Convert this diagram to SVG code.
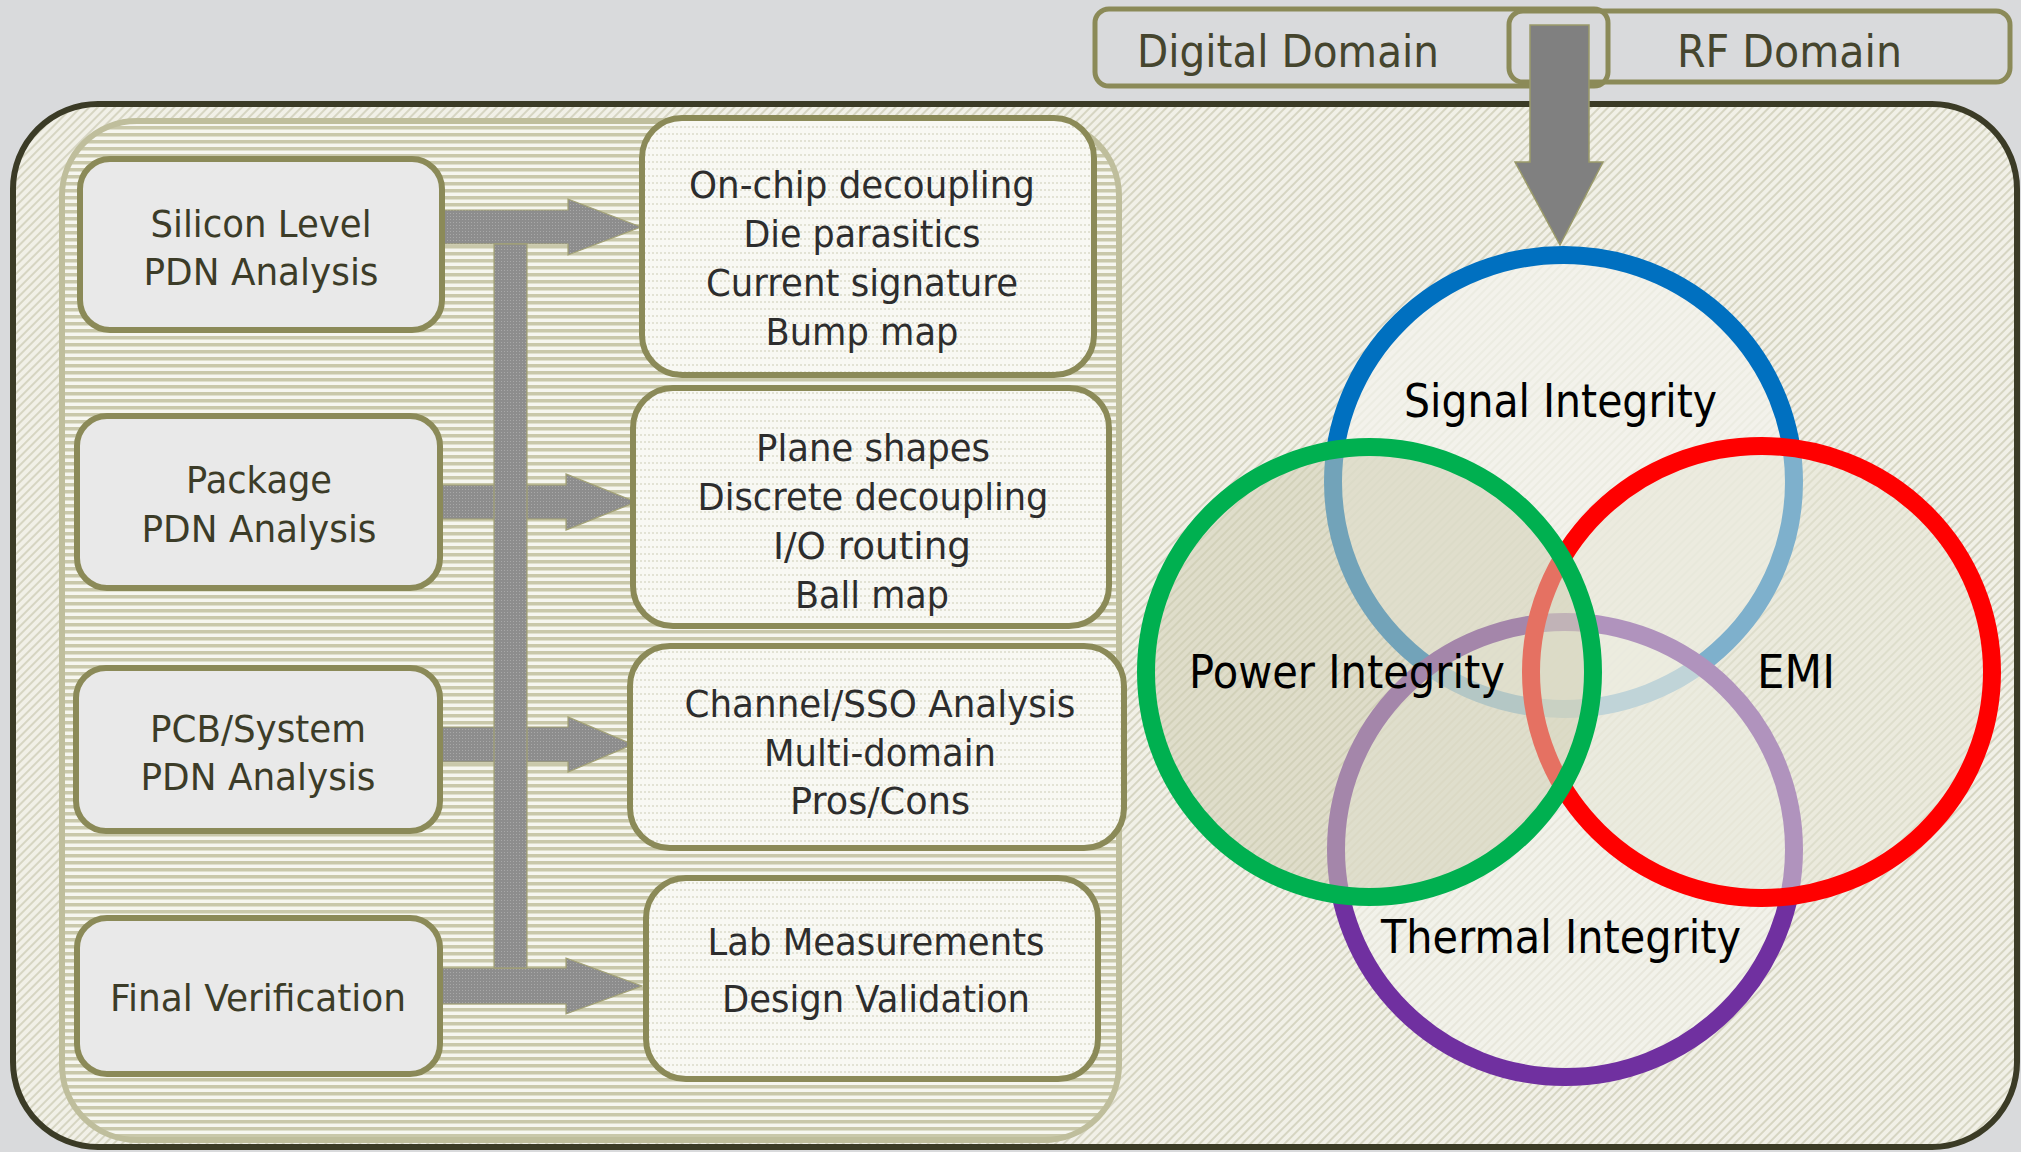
<svg xmlns="http://www.w3.org/2000/svg" width="2021" height="1152" viewBox="0 0 2021 1152">
<defs>
<pattern id="diag" width="6" height="6" patternUnits="userSpaceOnUse" patternTransform="rotate(45)">
<rect width="6" height="6" fill="#f1f0e7"/>
<rect width="2" height="6" fill="#d6d5c2"/>
</pattern>
<pattern id="stripes" width="8" height="7" patternUnits="userSpaceOnUse">
<rect width="8" height="7" fill="#f6f6ef"/>
<rect width="8" height="3.5" fill="#c9c8aa"/>
</pattern>
<pattern id="dots" width="4" height="7" patternUnits="userSpaceOnUse">
<rect width="4" height="7" fill="#f8f8f3"/>
<rect width="2" height="2" fill="#e2e2d4"/>
</pattern>
<pattern id="mesh" width="3" height="3" patternUnits="userSpaceOnUse">
<rect width="3" height="3" fill="#8d8d8d"/>
<rect width="1" height="1" fill="#a8a8a8"/>
</pattern>
<style>
.lbox{fill:#e9e9e9;stroke:#8b8a58;stroke-width:6}
.rbox{fill:url(#dots);stroke:#8b8a58;stroke-width:6}
.dom{fill:none;stroke:#8b8a58;stroke-width:5}
.arr{fill:url(#mesh);stroke:#a3a275;stroke-width:1.2}
.lt{font-family:"DejaVu Sans","Liberation Sans",sans-serif;font-size:38px;fill:#3c3c28}
.rt{font-family:"DejaVu Sans","Liberation Sans",sans-serif;font-size:38px;fill:#2d2d2d}
.vt{font-family:"DejaVu Sans","Liberation Sans",sans-serif;font-size:46px;fill:#000}
.dt{font-family:"DejaVu Sans","Liberation Sans",sans-serif;font-size:45px;fill:#45452e}
.ring{stroke-width:18}
</style>
</defs>
<rect width="2021" height="1152" fill="#d9dadc"/>
<g id="frame">
<rect x="13" y="104" width="2004" height="1043" rx="85" fill="url(#diag)" stroke="#3b3b26" stroke-width="6"/>
<rect x="62" y="121" width="1057" height="1019" rx="75" fill="url(#stripes)" stroke="#bfbe9c" stroke-width="6"/>
</g>
<g id="domain-digital">
<rect class="dom" x="1095" y="9" width="513" height="77" rx="14"/>
<text class="dt" x="1137" y="67" textLength="302" lengthAdjust="spacingAndGlyphs">Digital Domain</text>
</g>
<g id="domain-rf">
<rect class="dom" x="1509" y="11" width="501" height="71" rx="14"/>
<text class="dt" x="1677" y="67" textLength="225" lengthAdjust="spacingAndGlyphs">RF Domain</text>
</g>
<g id="connectors">
<path class="arr" d="M442,210 H568 V199 L641,227 L568,255 V244 H442 Z"/>
<path class="arr" d="M440,485 H566 V474 L636,502 L566,530 V519 H440 Z"/>
<path class="arr" d="M440,727 H568 V717 L633,744.5 L568,772 V762 H440 Z"/>
<path class="arr" d="M440,968 H566 V958 L642,986 L566,1014 V1004 H440 Z"/>
<rect class="arr" x="494" y="244" width="33" height="724"/>
<path d="M1530,25 H1589 V162 H1603 L1560,245 L1515,162 H1530 Z" fill="#808080" stroke="#9a9a6a" stroke-width="1.5"/>
</g>
<g id="node-silicon">
<rect class="lbox" x="80" y="159" width="362" height="171" rx="30"/>
<text class="lt" x="150.5" y="237" textLength="221" lengthAdjust="spacingAndGlyphs">Silicon Level</text>
<text class="lt" x="143.5" y="285" textLength="235" lengthAdjust="spacingAndGlyphs">PDN Analysis</text>
</g>
<g id="node-package">
<rect class="lbox" x="77" y="416" width="363" height="172" rx="30"/>
<text class="lt" x="186" y="493" textLength="146" lengthAdjust="spacingAndGlyphs">Package</text>
<text class="lt" x="141.5" y="542" textLength="235" lengthAdjust="spacingAndGlyphs">PDN Analysis</text>
</g>
<g id="node-pcb">
<rect class="lbox" x="76" y="668" width="364" height="163" rx="30"/>
<text class="lt" x="150" y="742" textLength="216" lengthAdjust="spacingAndGlyphs">PCB/System</text>
<text class="lt" x="140.5" y="790" textLength="235" lengthAdjust="spacingAndGlyphs">PDN Analysis</text>
</g>
<g id="node-final">
<rect class="lbox" x="77" y="918" width="363" height="156" rx="30"/>
<text class="lt" x="110" y="1011" textLength="296" lengthAdjust="spacingAndGlyphs">Final Verification</text>
</g>
<g id="node-onchip">
<rect class="rbox" x="642" y="118" width="452" height="257" rx="40"/>
<text class="rt" x="689" y="198" textLength="346" lengthAdjust="spacingAndGlyphs">On-chip decoupling</text>
<text class="rt" x="743.5" y="247" textLength="237" lengthAdjust="spacingAndGlyphs">Die parasitics</text>
<text class="rt" x="706" y="296" textLength="312" lengthAdjust="spacingAndGlyphs">Current signature</text>
<text class="rt" x="765.5" y="345" textLength="193" lengthAdjust="spacingAndGlyphs">Bump map</text>
</g>
<g id="node-plane">
<rect class="rbox" x="633" y="388" width="476" height="238" rx="40"/>
<text class="rt" x="756" y="461" textLength="234" lengthAdjust="spacingAndGlyphs">Plane shapes</text>
<text class="rt" x="697.5" y="510" textLength="351" lengthAdjust="spacingAndGlyphs">Discrete decoupling</text>
<text class="rt" x="773" y="559" textLength="198" lengthAdjust="spacingAndGlyphs">I/O routing</text>
<text class="rt" x="795" y="608" textLength="154" lengthAdjust="spacingAndGlyphs">Ball map</text>
</g>
<g id="node-channel">
<rect class="rbox" x="630" y="646" width="494" height="202" rx="40"/>
<text class="rt" x="684.5" y="717" textLength="391" lengthAdjust="spacingAndGlyphs">Channel/SSO Analysis</text>
<text class="rt" x="764" y="766" textLength="232" lengthAdjust="spacingAndGlyphs">Multi-domain</text>
<text class="rt" x="790" y="814" textLength="180" lengthAdjust="spacingAndGlyphs">Pros/Cons</text>
</g>
<g id="node-lab">
<rect class="rbox" x="646" y="878" width="452" height="201" rx="40"/>
<text class="rt" x="707.5" y="955" textLength="337" lengthAdjust="spacingAndGlyphs">Lab Measurements</text>
<text class="rt" x="722" y="1012" textLength="308" lengthAdjust="spacingAndGlyphs">Design Validation</text>
</g>
<g id="venn">
<g id="node-signal">
<ellipse class="ring" cx="1563.5" cy="482" rx="230.5" ry="227" fill="#f3f3ec" fill-opacity="0.75" stroke="#0070c0"/>
</g>
<g id="node-thermal">
<ellipse class="ring" cx="1565" cy="849.5" rx="229" ry="227.5" fill="#f3f3ec" fill-opacity="0.6" stroke="#7030a0"/>
</g>
<g id="node-emi">
<ellipse class="ring" cx="1761.5" cy="672" rx="230.5" ry="226" fill="#e6e5d6" fill-opacity="0.55" stroke="#ff0000"/>
</g>
<g id="node-power">
<ellipse class="ring" cx="1369.5" cy="672" rx="223.5" ry="225" fill="#cfcdb3" fill-opacity="0.55" stroke="#00b050"/>
</g>
<text class="vt" x="1404" y="417" textLength="313" lengthAdjust="spacingAndGlyphs">Signal Integrity</text>
<text class="vt" x="1189" y="688" textLength="316" lengthAdjust="spacingAndGlyphs">Power Integrity</text>
<text class="vt" x="1757" y="688" textLength="78" lengthAdjust="spacingAndGlyphs">EMI</text>
<text class="vt" x="1381" y="953" textLength="360" lengthAdjust="spacingAndGlyphs">Thermal Integrity</text>
</g>
</svg>
